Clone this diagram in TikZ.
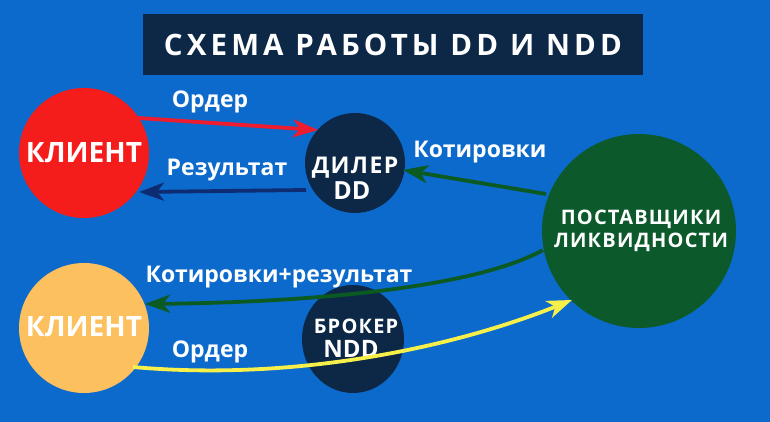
\documentclass[tikz,border=0pt]{standalone}
\usepackage{fontspec}
\setmainfont{Open Sans}
\newfontfamily\spaced[LetterSpace=6]{Open Sans}
\newfontfamily\wide[LetterSpace=14]{Open Sans}
\usetikzlibrary{arrows.meta}
\definecolor{bg}{HTML}{0B6ACB}
\definecolor{navy}{HTML}{0C2846}
\definecolor{redc}{HTML}{F51C1C}
\definecolor{greenc}{HTML}{0C5A2C}
\definecolor{yellc}{HTML}{FCC05E}
\definecolor{arred}{HTML}{EE1C2E}
\definecolor{arblue}{HTML}{0E2C72}
\definecolor{argreen}{HTML}{0B5A22}
\definecolor{aryel}{HTML}{F8F04A}
\tikzset{
  lbl/.style={text=white,font=\bfseries\fontsize{23}{26}\selectfont,inner sep=0pt},
  circtext/.style={text=white,align=center,inner sep=0pt},
  conn/.style={line width=3.8pt,-{Stealth[length=25pt,width=18pt,inset=7pt]}},
}
\begin{document}
\begin{tikzpicture}[x=1pt,y=-1pt]
\useasboundingbox (0,0) rectangle (770,422);
\fill[bg] (0,0) rectangle (770,422);
% title
\node[fill=navy,minimum width=500pt,minimum height=61pt,inner sep=0pt,
      text=white,font=\wide\bfseries\fontsize{29.5}{32}\selectfont] (title) at (393,45) {СХЕМА РАБОТЫ DD И NDD};
% circles
\fill[redc] (84,153) circle (65);
\node[circtext,font=\bfseries\fontsize{28}{32}\selectfont] (client1) at (84,153) {КЛИЕНТ};
\fill[navy] (355,163) circle (50);
\node[circtext,font=\spaced\bfseries\fontsize{23}{27}\selectfont] (dealer) at (355,168) {ДИЛЕР};
\node[circtext,font=\bfseries\fontsize{25}{27}\selectfont] (dd) at (352,191) {DD};
\fill[greenc] (639,231) circle (97);
\node[circtext,font=\spaced\bfseries\fontsize{20}{23}\selectfont] (lp) at (641,231) {ПОСТАВЩИКИ\\ЛИКВИДНОСТИ};
\fill[yellc] (84,328) circle (65);
\node[circtext,font=\bfseries\fontsize{28}{32}\selectfont] (client2) at (84,327) {КЛИЕНТ};
\fill[navy] (353,339) ellipse (51 and 54);
\node[circtext,font=\spaced\bfseries\fontsize{20}{26}\selectfont] (broker) at (356,326) {БРОКЕР};
\node[circtext,font=\bfseries\fontsize{24}{26}\selectfont] (ndd) at (351,349) {NDD};
% anchors
\coordinate (a1) at (138,118);
\coordinate (a2) at (318,130);
\coordinate (b1) at (306,190);
\coordinate (b2) at (139,192);
\coordinate (g1) at (546,194);
\coordinate (g2) at (403,170);
\coordinate (h1) at (543,250);
\coordinate (h2) at (145,304);
\coordinate (y1) at (133,367);
\coordinate (y2) at (572,300);
% arrows
\draw[conn,arred] (a1) -- (a2);
\draw[conn,arblue] (b1) -- (b2);
\draw[conn,argreen] (g1) -- (g2);
\draw[conn,argreen] (h1) .. controls (480,285) and (330,302) .. (h2);
\draw[conn,aryel] (y1) .. controls (300,382) and (460,345) .. (y2);
% labels
\node[lbl] (l1) at (210,102) {Ордер};
\node[lbl] (l2) at (227,170) {Результат};
\node[lbl] (l3) at (480,152) {Котировки};
\node[lbl] (l4) at (279,277) {Котировки+результат};
\node[lbl] (l5) at (210,352) {Ордер};
\end{tikzpicture}
\end{document}
